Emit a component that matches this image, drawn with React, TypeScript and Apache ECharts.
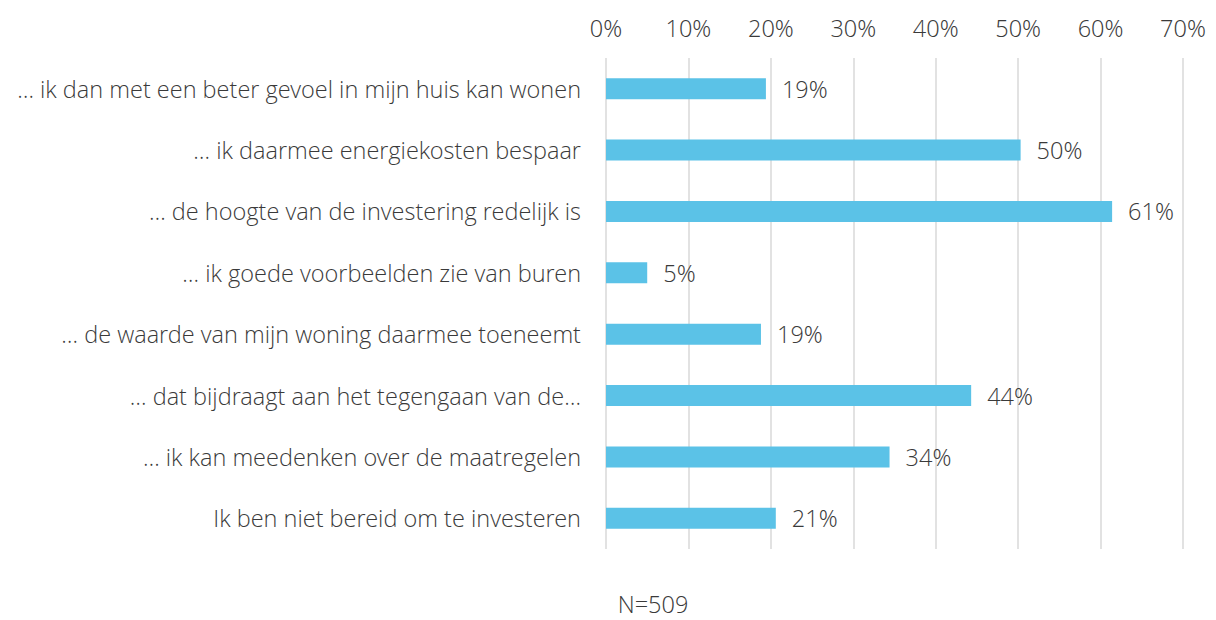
import React, { useEffect, useRef } from "react";
import * as echarts from "echarts";

const categories = [
  "… ik dan met een beter gevoel in mijn huis kan wonen",
  "… ik daarmee energiekosten bespaar",
  "… de hoogte van de investering redelijk is",
  "… ik goede voorbeelden zie van buren",
  "… de waarde van mijn woning daarmee toeneemt",
  "… dat bijdraagt aan het tegengaan van de…",
  "… ik kan meedenken over de maatregelen",
  "Ik ben niet bereid om te investeren",
];
const values = [19.4, 50.3, 61.4, 5.0, 18.8, 44.3, 34.4, 20.6];
const note = "N=509";

const FONT = "'Open Sans Light', 'Open Sans', Lato, sans-serif";
const TEXT = "#3a3a3a";
const FS = 23.5;

export default function App() {
  const ref = useRef<HTMLDivElement>(null);
  useEffect(() => {
    document.body.style.margin = "0";
    if (!ref.current) return;
    const chart = echarts.init(ref.current, null, { renderer: "svg" });
    chart.setOption({
      animation: false,
      textStyle: { fontFamily: FONT },
      grid: { left: 606, right: 33, top: 58, bottom: 71 },
      xAxis: {
        type: "value",
        position: "top",
        min: 0,
        max: 70,
        interval: 10,
        axisLine: { show: false },
        axisTick: { show: false },
        splitLine: { lineStyle: { color: "#d9d9d9", width: 1.5 } },
        axisLabel: {
          formatter: "{value}%",
          color: TEXT,
          fontSize: FS,
          fontWeight: 300,
          fontFamily: FONT,
          margin: 18,
        },
      },
      yAxis: {
        type: "category",
        inverse: true,
        data: categories,
        axisLine: { show: false },
        axisTick: { show: false },
        axisLabel: {
          color: TEXT,
          fontSize: FS,
          fontWeight: 300,
          fontFamily: FONT,
          margin: 25,
        },
      },
      series: [
        {
          type: "bar",
          data: values,
          barWidth: 21,
          itemStyle: { color: "#5bc2e7" },
          label: {
            show: true,
            position: "right",
            distance: 16,
            formatter: (p: any) => Math.round(p.value) + "%",
            color: TEXT,
            fontSize: FS,
            fontWeight: 300,
            fontFamily: FONT,
          },
        },
      ],
      graphic: [
        {
          type: "text",
          x: 653,
          y: 604,
          style: {
            text: note,
            fill: TEXT,
            font: `300 ${FS}px ${FONT}`,
            textAlign: "center",
            textVerticalAlign: "middle",
          },
        },
      ],
    });
    return () => chart.dispose();
  }, []);
  return <div ref={ref} style={{ width: 1216, height: 620 }} />;
}
